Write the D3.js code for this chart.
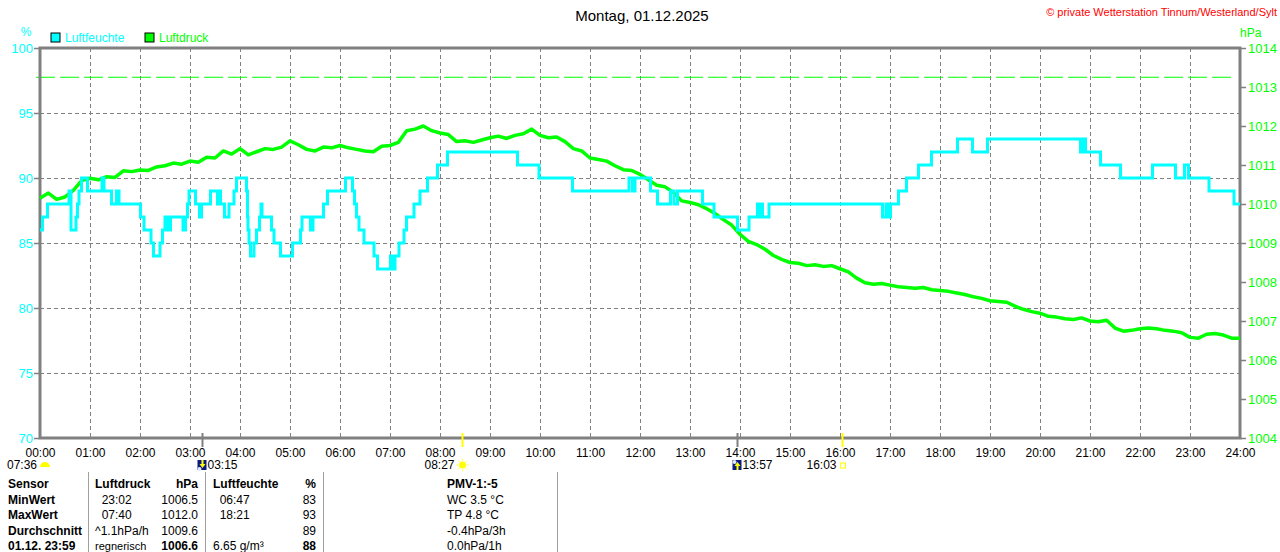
<!DOCTYPE html>
<html>
<head>
<meta charset="utf-8">
<script src="https://cdn.jsdelivr.net/npm/d3@7"></script>
<style>
  body { margin: 0; background: #fff; }
  svg { display: block; font-family: "Liberation Sans", Arial, sans-serif; }
</style>
</head>
<body>
<svg id="chart" width="1280" height="552"></svg>
<script>
// Tagesgang Luftfeuchte / Luftdruck, 01.12.2025

// humidity: change points [hour, %] (step line)
const humSteps = [
  [0.00, 86], [0.05, 87], [0.15, 88], [0.58, 89], [0.62, 86], [0.72, 87], [0.75, 88], [0.78, 89],
  [0.83, 90], [0.95, 89], [1.24, 90], [1.28, 89], [1.43, 88], [1.53, 89], [1.58, 88], [2.01, 87],
  [2.08, 86], [2.22, 85], [2.27, 84], [2.40, 85], [2.45, 86], [2.50, 87], [2.55, 86], [2.61, 87],
  [2.86, 86], [2.91, 87], [2.95, 88], [2.98, 89], [3.11, 88], [3.19, 87], [3.23, 88], [3.41, 89],
  [3.55, 88], [3.58, 89], [3.61, 88], [3.69, 87], [3.78, 88], [3.88, 89], [3.93, 90], [4.13, 89],
  [4.15, 87], [4.16, 86], [4.18, 85], [4.21, 84], [4.28, 85], [4.33, 86], [4.39, 87], [4.42, 88],
  [4.44, 87], [4.63, 86], [4.68, 85], [4.81, 84], [5.05, 85], [5.21, 86], [5.24, 87], [5.41, 86],
  [5.46, 87], [5.67, 88], [5.75, 89], [6.11, 90], [6.25, 89], [6.29, 88], [6.33, 87], [6.38, 86],
  [6.48, 85], [6.68, 84], [6.75, 83], [7.01, 84], [7.05, 83], [7.10, 84], [7.18, 85], [7.28, 86],
  [7.33, 87], [7.48, 88], [7.60, 89], [7.75, 90], [7.95, 91], [8.15, 92], [9.55, 91], [9.98, 90],
  [10.65, 89], [11.78, 90], [11.85, 89], [11.90, 90], [12.21, 89], [12.35, 88], [12.61, 89], [12.68, 88],
  [12.75, 89], [13.25, 88], [13.48, 87], [13.95, 86], [14.18, 87], [14.35, 88], [14.39, 87], [14.42, 88],
  [14.45, 87], [14.58, 88], [16.85, 87], [16.92, 88], [16.96, 87], [17.01, 88], [17.17, 89], [17.33, 90],
  [17.57, 91], [17.83, 92], [18.35, 93], [18.65, 92], [18.95, 93], [20.81, 92], [20.85, 93], [20.91, 92],
  [21.21, 91], [21.61, 90], [22.25, 91], [22.71, 90], [22.89, 91], [22.97, 90], [23.38, 89], [23.88, 88],
  [24.00, 88]
];

// pressure, hPa, every 10 minutes from 00:00 to 24:00
const pressure = [
  1010.15, 1010.28, 1010.12, 1010.18, 1010.35, 1010.60, 1010.66, 1010.62, 1010.70, 1010.68, 1010.85, 1010.83,
  1010.87, 1010.86, 1010.95, 1010.98, 1011.05, 1011.02, 1011.10, 1011.07, 1011.20, 1011.18, 1011.36, 1011.28,
  1011.42, 1011.26, 1011.34, 1011.42, 1011.40, 1011.46, 1011.62, 1011.52, 1011.40, 1011.36, 1011.46, 1011.44,
  1011.50, 1011.44, 1011.40, 1011.36, 1011.34, 1011.48, 1011.50, 1011.58, 1011.88, 1011.92, 1012.00, 1011.88,
  1011.82, 1011.78, 1011.60, 1011.62, 1011.58, 1011.64, 1011.70, 1011.74, 1011.68, 1011.76, 1011.80, 1011.92,
  1011.76, 1011.70, 1011.72, 1011.60, 1011.42, 1011.36, 1011.18, 1011.14, 1011.10, 1010.98, 1010.88, 1010.86,
  1010.76, 1010.62, 1010.48, 1010.44, 1010.30, 1010.08, 1010.04, 1009.98, 1009.88, 1009.76, 1009.60, 1009.46,
  1009.22, 1009.04, 1008.96, 1008.84, 1008.68, 1008.58, 1008.50, 1008.48, 1008.42, 1008.44, 1008.40, 1008.42,
  1008.34, 1008.26, 1008.10, 1007.98, 1007.94, 1007.96, 1007.92, 1007.88, 1007.86, 1007.84, 1007.86, 1007.80,
  1007.78, 1007.76, 1007.72, 1007.68, 1007.62, 1007.58, 1007.52, 1007.50, 1007.48, 1007.38, 1007.30, 1007.24,
  1007.20, 1007.12, 1007.10, 1007.06, 1007.04, 1007.08, 1007.00, 1006.98, 1007.02, 1006.82, 1006.74, 1006.76,
  1006.80, 1006.82, 1006.80, 1006.76, 1006.74, 1006.70, 1006.58, 1006.56, 1006.66, 1006.68, 1006.64, 1006.56,
  1006.56
];

const refPressure = 1013.25;

const hourTicks = d3.range(0, 25);
const humTicks = [70, 75, 80, 85, 90, 95, 100];
const presTicks = d3.range(1004, 1015);

// sun / moon events under the time axis
const events = [
  { label: "07:36", at: 0,     icon: "dawn",     side: "left" },
  { label: "03:15", at: 3.25,  icon: "moonrise", side: "right", tick: "#808080" },
  { label: "08:27", at: 8.45,  icon: "sun",      side: "left",  tick: "#ffff00" },
  { label: "13:57", at: 13.95, icon: "moonset",  side: "right", tick: "#808080" },
  { label: "16:03", at: 16.05, icon: "sunset",   side: "left",  tick: "#ffff00" }
];

// summary table
const tableCols = [
  { x: 8,   anchor: "start" },
  { x: 95,  anchor: "start" },
  { x: 198, anchor: "end" },
  { x: 213, anchor: "start" },
  { x: 316, anchor: "end" },
  { x: 447, anchor: "start" }
];
const tableRows = [
  ["Sensor", "Luftdruck", "hPa", "Luftfeuchte", "%", "PMV-1:-5"],
  ["MinWert", "  23:02", "1006.5", "  06:47", "83", "WC 3.5 °C"],
  ["MaxWert", "  07:40", "1012.0", "  18:21", "93", "TP 4.8 °C"],
  ["Durchschnitt", "^1.1hPa/h", "1009.6", "", "89", "-0.4hPa/3h"],
  ["01.12. 23:59", "regnerisch", "1006.6", "6.65 g/m³", "88", "0.0hPa/1h"]
];
const boldCells = [[0,0],[0,1],[0,2],[0,3],[0,4],[0,5],[1,0],[2,0],[3,0],[4,0],[4,2],[4,4]];
const tableSeps = [88, 205, 323, 557];

const cyan = "#00ffff", green = "#00ff00", gray = "#808080";

const svg = d3.select("#chart");
const plot = { left: 40, right: 1240, top: 48, bottom: 438 };

const x = d3.scaleLinear().domain([0, 24]).range([plot.left, plot.right]);
const yH = d3.scaleLinear().domain([70, 100]).range([plot.bottom, plot.top]);
const yP = d3.scaleLinear().domain([1004, 1014]).range([plot.bottom, plot.top]);

// title texts
svg.append("text").attr("x", 642).attr("y", 21).attr("text-anchor", "middle")
  .style("font-size", "15px").attr("fill", "#000").text("Montag, 01.12.2025");
svg.append("text").attr("x", 1277).attr("y", 16).attr("text-anchor", "end")
  .style("font-size", "11px").attr("fill", "#ff0000").text("© private Wetterstation Tinnum/Westerland/Sylt");
svg.append("text").attr("x", 26).attr("y", 36).attr("text-anchor", "middle")
  .style("font-size", "12px").attr("fill", cyan).text("%");
svg.append("text").attr("x", 1240).attr("y", 37)
  .style("font-size", "12px").attr("fill", green).text("hPa");

// legend
const legend = [["Luftfeuchte", cyan, 51], ["Luftdruck", green, 145]];
legend.forEach(([name, col, lx]) => {
  svg.append("rect").attr("x", lx).attr("y", 33).attr("width", 9).attr("height", 9)
    .attr("fill", col).attr("stroke", "#000").attr("stroke-width", 1);
  svg.append("text").attr("x", lx + 14).attr("y", 42).style("font-size", "12px")
    .attr("fill", col).text(name);
});

// grid
const grid = svg.append("g").attr("stroke", gray).attr("stroke-width", 1).attr("stroke-dasharray", "4,3");
grid.selectAll("line.v").data(hourTicks.slice(1, -1)).join("line").attr("class", "v")
  .attr("x1", d => x(d) + 0.5).attr("x2", d => x(d) + 0.5)
  .attr("y1", plot.top).attr("y2", plot.bottom);
grid.selectAll("line.h").data(humTicks.slice(1, -1)).join("line").attr("class", "h")
  .attr("x1", plot.left).attr("x2", plot.right)
  .attr("y1", d => yH(d) + 0.5).attr("y2", d => yH(d) + 0.5);

// 1013.25 hPa reference
svg.append("line").attr("x1", 36).attr("x2", 1232)
  .attr("y1", yP(refPressure)).attr("y2", yP(refPressure))
  .attr("stroke", green).attr("stroke-width", 1).attr("stroke-dasharray", "19,5");

// frame
svg.append("rect").attr("x", plot.left).attr("y", plot.top)
  .attr("width", plot.right - plot.left).attr("height", plot.bottom - plot.top)
  .attr("fill", "none").attr("stroke", gray).attr("stroke-width", 3);

// axes
const axL = svg.append("g").attr("transform", `translate(${plot.left - 1},0)`)
  .call(d3.axisLeft(yH).tickValues(humTicks).tickSize(5).tickPadding(1));
axL.selectAll("text").attr("fill", cyan).style("font-size", "13px").attr("dy", "0.35em");
const axR = svg.append("g").attr("transform", `translate(${plot.right + 1},0)`)
  .call(d3.axisRight(yP).tickValues(presTicks).tickFormat(d3.format("d")).tickSize(5).tickPadding(2));
axR.selectAll("text").attr("fill", green).style("font-size", "13px").attr("dy", "0.35em");
[axL, axR].forEach(a => {
  a.select(".domain").remove();
  a.selectAll("line").attr("stroke", gray).attr("stroke-width", 1.5);
  a.style("font-family", "Liberation Sans, Arial, sans-serif");
});
const axB = svg.append("g").attr("transform", `translate(0,${plot.bottom})`)
  .call(d3.axisBottom(x).tickValues(hourTicks).tickSize(0).tickPadding(10)
    .tickFormat(d => String(d).padStart(2, "0") + ":00"));
axB.select(".domain").remove();
axB.selectAll("text").attr("fill", "#000").style("font-size", "12px")
  .style("font-family", "Liberation Sans, Arial, sans-serif");

// pressure line
const presLine = d3.line().x((d, i) => x(i / 6)).y(d => yP(d)).curve(d3.curveLinear);
svg.append("path").datum(pressure).attr("d", presLine)
  .attr("fill", "none").attr("stroke", green).attr("stroke-width", 3.5).attr("stroke-linejoin", "round");

// humidity step line
const humLine = d3.line().x(d => x(d[0])).y(d => yH(d[1])).curve(d3.curveStepAfter);
svg.append("path").datum(humSteps).attr("d", humLine)
  .attr("fill", "none").attr("stroke", cyan).attr("stroke-width", 3);

// events
const ev = svg.append("g").style("font-size", "12px");
events.forEach(e => {
  const ex = x(e.at);
  if (e.tick) {
    ev.append("line").attr("x1", ex).attr("x2", ex).attr("y1", 433).attr("y2", 447)
      .attr("stroke", e.tick).attr("stroke-width", 2);
  }
  const iy = 465;
  let textX, anchor;
  if (e.icon === "dawn") {
    ev.append("path").attr("d", d3.arc()({ innerRadius: 0, outerRadius: 5, startAngle: -Math.PI / 2, endAngle: Math.PI / 2 }))
      .attr("transform", `translate(${ex + 5},${iy + 2})`).attr("fill", "#ffff00");
    textX = ex - 3; anchor = "end";
  } else if (e.icon === "sun") {
    const s = ev.append("g").attr("transform", `translate(${ex},${iy})`);
    s.append("circle").attr("r", 3.5).attr("fill", "#ffff00");
    d3.range(8).forEach(k => {
      const a = k * Math.PI / 4;
      s.append("line").attr("x1", Math.cos(a) * 4.5).attr("y1", Math.sin(a) * 4.5)
        .attr("x2", Math.cos(a) * 6).attr("y2", Math.sin(a) * 6)
        .attr("stroke", "#ffff00").attr("stroke-width", 1);
    });
    textX = ex - 8; anchor = "end";
  } else if (e.icon === "sunset") {
    ev.append("rect").attr("x", ex - 2).attr("y", iy - 2).attr("width", 5).attr("height", 5)
      .attr("fill", "none").attr("stroke", "#ffff00").attr("stroke-width", 1);
    textX = ex - 6; anchor = "end";
  } else {
    const g = ev.append("g").attr("transform", `translate(${ex - 5},${iy - 5})`);
    g.append("rect").attr("width", 9).attr("height", 10).attr("fill", "#0a1a80");
    g.append("circle").attr("cx", 2).attr("cy", e.icon === "moonrise" ? 9 : 2).attr("r", 2).attr("fill", "#e0e8ff");
    const up = e.icon === "moonset";
    g.append("path").attr("d", up ? "M5,2 L8,6 L6,6 L6,10 L4,10 L4,6 L2,6 Z" : "M4,0 L6,0 L6,4 L8,4 L5,8 L2,4 L4,4 Z")
      .attr("fill", "#ffff00");
    textX = ex + 5; anchor = "start";
  }
  ev.append("text").attr("x", textX).attr("y", iy + 4).attr("text-anchor", anchor)
    .attr("fill", "#000").text(e.label);
});

// table
svg.append("g").selectAll("line").data(tableSeps).join("line")
  .attr("x1", d => d + 0.5).attr("x2", d => d + 0.5).attr("y1", 472).attr("y2", 552)
  .attr("stroke", "#a0a0a0").attr("stroke-width", 1);
const tbl = svg.append("g").style("font-size", "12px");
tableRows.forEach((row, r) => {
  row.forEach((cell, c) => {
    if (!cell) return;
    const bold = boldCells.some(([br, bc]) => br === r && bc === c);
    tbl.append("text").attr("x", tableCols[c].x).attr("y", 488 + r * 15.5)
      .attr("text-anchor", tableCols[c].anchor)
      .style("font-weight", bold ? "bold" : "normal")
      .style("font-size", (r === 4 && c === 1) ? "11px" : "12px")
      .attr("xml:space", "preserve")
      .attr("fill", "#000").text(cell);
  });
});
</script>
</body>
</html>
